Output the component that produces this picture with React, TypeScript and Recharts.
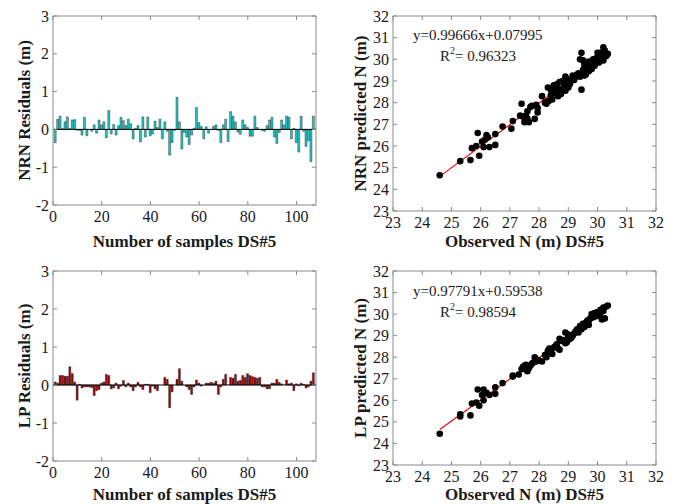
import React from 'react';
import {
  ComposedChart, ScatterChart, Bar, Scatter, XAxis, YAxis, ReferenceLine, ReferenceArea, Customized,
} from 'recharts';

const FONT = '"Liberation Serif", "Times New Roman", serif';
const AXC = '#8a8a8a';
const TXT = '#1a1a1a';

// ---------- data ----------
const residualTicksX = [0, 20, 40, 60, 80, 100];
const residualTicksY = [-2, -1, 0, 1, 2, 3];
const scatterTicks = [23, 24, 25, 26, 27, 28, 29, 30, 31, 32];

const nrnResiduals = [
  -0.35, 0.27, 0.35, 0.02, 0.2, 0.33, 0.02, 0.25, 0.26, -0.02,
  -0.03, -0.15, 0.32, -0.17, 0.0, -0.05, 0.12, -0.1, 0.25, 0.12,
  0.2, -0.22, 0.5, -0.12, 0.13, -0.15, 0.1, 0.32, 0.23, 0.1,
  0.27, 0.15, -0.25, 0.03, 0.1, -0.33, 0.33, -0.2, 0.33, -0.17,
  -0.12, 0.22, 0.05, 0.27, -0.25, 0.2, -0.05, -0.68, -0.35, -0.03,
  0.85, 0.2, -0.52, -0.08, -0.2, -0.4, -0.15, 0.03, 0.58, 0.18,
  0.08, -0.25, 0.07, -0.1, 0.0, 0.08, 0.12, -0.03, -0.35, 0.12,
  0.27, -0.32, 0.47, 0.35, 0.2, -0.07, -0.13, 0.25, 0.12, 0.05,
  -0.18, -0.18, 0.35, 0.05, 0.0, -0.03, -0.05, 0.1, 0.25, 0.32,
  -0.2, -0.37, -0.08, 0.25, 0.12, 0.35, 0.32, -0.25, 0.03, -0.35,
  -0.6, 0.35, -0.05, -0.45, -0.3, -0.85, 0.35,
];

const lpResiduals = [
  0.08, 0.05, 0.25, 0.25, 0.23, 0.23, 0.48, 0.3, 0.08, -0.4,
  0.02, -0.08, -0.05, -0.05, -0.05, -0.07, -0.28, -0.15, -0.12, 0.05,
  0.08, 0.28, 0.25, -0.1, -0.08, 0.05, -0.1, -0.03, 0.12, -0.05,
  0.05, -0.05, -0.15, -0.05, 0.07, -0.05, -0.12, 0.02, 0.02, -0.2,
  -0.03, -0.1, -0.15, 0.0, 0.0, 0.2, 0.15, -0.6, -0.18, 0.0,
  0.15, 0.43, 0.1, 0.0, -0.05, -0.12, -0.25, -0.05, 0.13, 0.05,
  -0.03, 0.0, 0.05, 0.05, 0.07, 0.05, 0.1, -0.25, -0.05, 0.15,
  0.28, 0.0, 0.2, 0.18, 0.28, 0.1, 0.12, 0.25, 0.2, 0.3,
  0.25, 0.22, 0.2, 0.18, 0.2, -0.05, -0.05, -0.1, -0.1, 0.05,
  0.05, 0.15, 0.07, 0.03, 0.0, 0.13, 0.03, 0.05, -0.15, 0.03,
  -0.02, 0.05, 0.02, -0.08, -0.05, 0.1, 0.32,
];

const nrnObsPred: [number, number][] = [
  [24.6, 24.65], [25.3, 25.3], [25.65, 25.35], [25.7, 25.9], [25.85, 26.0], [25.9, 26.6], [25.95, 25.55],
  [26.05, 26.2], [26.1, 25.95], [26.15, 26.3], [26.2, 26.5], [26.25, 26.4], [26.3, 25.95], [26.5, 26.55],
  [26.5, 26.05], [26.75, 26.9], [27.05, 26.8], [27.1, 27.15], [27.35, 27.4], [27.4, 27.95], [27.45, 27.35],
  [27.5, 27.1], [27.55, 27.4], [27.6, 27.25], [27.65, 27.1], [27.7, 27.8], [27.75, 27.85], [27.85, 27.25],
  [27.9, 27.9], [27.95, 27.55], [27.95, 27.75], [28.1, 28.3], [28.2, 28.0], [28.25, 27.95], [28.3, 28.7],
  [28.35, 28.1], [28.4, 28.6], [28.45, 28.15], [28.5, 28.8], [28.55, 28.55], [28.6, 28.85], [28.65, 28.3],
  [28.7, 28.95], [28.7, 28.5], [28.75, 28.4], [28.8, 28.6], [28.85, 28.75], [28.9, 29.2], [28.9, 28.55],
  [28.95, 29.1], [29.0, 28.7], [29.05, 28.85], [29.1, 29.0], [29.15, 29.25], [29.2, 29.05], [29.3, 29.3],
  [29.35, 29.35], [29.4, 29.2], [29.45, 30.3], [29.45, 28.6], [29.5, 29.95], [29.5, 29.4], [29.55, 29.6],
  [29.6, 29.3], [29.65, 29.7], [29.7, 29.45], [29.75, 29.85], [29.8, 29.55], [29.85, 29.95], [29.9, 29.7],
  [29.95, 30.05], [30.0, 30.3], [30.05, 29.85], [30.1, 30.0], [30.15, 30.2], [30.2, 30.55], [30.2, 29.95],
  [30.25, 30.4], [30.3, 30.15], [30.35, 30.25], [29.3, 29.25], [29.55, 29.25], [29.65, 29.5], [29.0, 28.95],
  [28.4, 28.35], [28.6, 28.4], [29.85, 30.0], [30.0, 29.95], [29.5, 29.5], [29.4, 30.0], [28.8, 29.0],
  [29.25, 29.2], [28.95, 28.9], [28.65, 28.65], [29.7, 29.9], [30.1, 30.3], [29.55, 29.75], [28.3, 28.05],
  [27.6, 27.6], [29.15, 29.1],
];

const lpObsPred: [number, number][] = [
  [24.6, 24.45], [25.3, 25.35], [25.3, 25.25], [25.65, 25.3], [25.7, 25.85], [25.85, 25.9], [25.9, 26.5],
  [25.95, 25.75], [26.05, 26.25], [26.1, 26.0], [26.1, 26.5], [26.2, 26.35], [26.3, 26.25], [26.5, 26.6],
  [26.5, 26.3], [26.75, 26.8], [27.1, 27.15], [27.1, 27.1], [27.3, 27.2], [27.4, 27.45], [27.45, 27.55],
  [27.5, 27.6], [27.55, 27.65], [27.6, 27.35], [27.65, 27.5], [27.7, 27.6], [27.8, 27.75], [27.85, 28.0],
  [27.9, 27.8], [28.0, 27.85], [28.1, 27.8], [28.2, 28.1], [28.25, 28.0], [28.3, 28.3], [28.35, 28.4],
  [28.4, 28.2], [28.45, 28.15], [28.5, 28.45], [28.6, 28.55], [28.65, 28.4], [28.7, 28.85], [28.7, 28.35],
  [28.8, 28.75], [28.9, 29.15], [28.9, 28.65], [28.95, 28.7], [29.0, 29.05], [29.05, 28.85], [29.1, 28.9],
  [29.2, 29.1], [29.3, 29.3], [29.35, 29.15], [29.4, 29.45], [29.45, 29.3], [29.5, 29.55], [29.55, 29.4],
  [29.6, 29.6], [29.65, 29.7], [29.7, 29.5], [29.75, 29.8], [29.8, 30.0], [29.85, 29.85], [29.9, 30.05],
  [29.95, 29.9], [30.0, 30.1], [30.05, 29.95], [30.1, 30.2], [30.15, 29.75], [30.2, 30.3], [30.25, 29.8],
  [30.3, 30.35], [30.35, 30.4], [28.6, 28.6], [28.75, 28.75], [29.15, 29.0], [29.45, 29.45], [29.7, 29.7],
  [30.1, 30.05], [27.9, 27.9], [28.3, 28.2], [29.0, 28.95], [29.25, 29.2], [29.55, 29.5], [29.85, 29.95],
  [30.0, 30.0], [28.85, 28.8], [28.4, 28.35], [27.75, 27.7], [29.4, 29.3], [29.95, 30.05], [30.2, 30.15],
  [28.55, 28.5], [29.65, 29.6], [27.5, 27.45],
];

const nrnFit = { slope: 0.99666, intercept: 0.07995, r2: '0.96323', x0: 24.6, x1: 30.35 };
const lpFit = { slope: 0.97791, intercept: 0.59538, r2: '0.98594', x0: 24.6, x1: 30.35 };

// ---------- helpers ----------
const TICK_FS = 16;
const TITLE_FS = 17;

function makeXTick(plotH: number, margin: number) {
  return (props: any) => {
    const { x, y, payload } = props;
    const axisY = y - margin;
    return (
      <g>
        <line x1={x} x2={x} y1={axisY} y2={axisY - 4} stroke={AXC} />
        <line x1={x} x2={x} y1={axisY - plotH} y2={axisY - plotH + 4} stroke={AXC} />
        <text x={x} y={y} textAnchor="middle" dominantBaseline="central" fontFamily={FONT} fontSize={TICK_FS} fill={TXT}>
          {payload.value}
        </text>
      </g>
    );
  };
}

function makeYTick(plotW: number, margin: number) {
  return (props: any) => {
    const { x, y, payload } = props;
    const axisX = x + margin;
    return (
      <g>
        <line x1={axisX} x2={axisX + 4} y1={y} y2={y} stroke={AXC} />
        <line x1={axisX + plotW} x2={axisX + plotW - 4} y1={y} y2={y} stroke={AXC} />
        <text x={x} y={y} textAnchor="end" dominantBaseline="central" fontFamily={FONT} fontSize={TICK_FS} fill={TXT}>
          {payload.value}
        </text>
      </g>
    );
  };
}

function Titles({ xTitle, yTitle, xCenter, xTitleY, yCenter, yTitleX }: any) {
  return (
    <g>
      <text x={xCenter} y={xTitleY} textAnchor="middle" dominantBaseline="central" fontFamily={FONT}
        fontSize={TITLE_FS} fontWeight="bold" fill={TXT}>{xTitle}</text>
      <text x={yTitleX} y={yCenter} textAnchor="middle" dominantBaseline="central" fontFamily={FONT}
        fontSize={TITLE_FS} fontWeight="bold" fill={TXT} transform={`rotate(-90 ${yTitleX} ${yCenter})`}>{yTitle}</text>
    </g>
  );
}

const PLOT_W = 263;
const Y_AXIS_W = 53;
const CHART_W = 337;

function ResidualPanel({ values, fill, yTitle, top, height, plotTop, plotBottom, xTitleY }: any) {
  const data = values.map((v: number, i: number) => ({ idx: i + 1, v }));
  const plotH = plotBottom - plotTop;
  const xMargin = 11;
  return (
    <div style={{ position: 'absolute', left: 0, top }}>
      <ComposedChart width={CHART_W} height={height} data={data}
        margin={{ top: plotTop, right: CHART_W - Y_AXIS_W - PLOT_W, left: 0, bottom: 0 }}>
        <XAxis dataKey="idx" type="number" domain={[0, 108]} ticks={residualTicksX} interval={0}
          height={height - plotBottom} axisLine={false} tickLine={false} tickSize={0} tickMargin={xMargin}
          tick={makeXTick(plotH, xMargin)} />
        <YAxis type="number" domain={[-2, 3]} ticks={residualTicksY} interval={0} width={Y_AXIS_W}
          axisLine={false} tickLine={false} tickSize={0} tickMargin={4} tick={makeYTick(PLOT_W, 4)} />
        <Bar dataKey="v" fill={fill} stroke="#111" strokeWidth={0.4} barSize={2} isAnimationActive={false} />
        <ReferenceLine y={0} stroke="#000" strokeWidth={1} />
        <ReferenceArea x1={0} x2={108} y1={-2} y2={3} fill="none" stroke={AXC} strokeWidth={1} />
        <Customized component={() => (
          <Titles xTitle="Number of samples DS#5" yTitle={yTitle}
            xCenter={Y_AXIS_W + PLOT_W / 2} xTitleY={xTitleY}
            yCenter={(plotTop + plotBottom) / 2} yTitleX={24} />
        )} />
      </ComposedChart>
    </div>
  );
}

function ScatterPanel({ points, fit, yTitle, top, height, plotTop, plotBottom, xTitleY, eqY, r2Y }: any) {
  const data = points.map((p: [number, number]) => ({ x: p[0], y: p[1] }));
  const plotH = plotBottom - plotTop;
  const xMargin = 11;
  const seg = [
    { x: fit.x0, y: fit.slope * fit.x0 + fit.intercept },
    { x: fit.x1, y: fit.slope * fit.x1 + fit.intercept },
  ];
  return (
    <div style={{ position: 'absolute', left: 340, top }}>
      <ScatterChart width={CHART_W} height={height}
        margin={{ top: plotTop, right: CHART_W - Y_AXIS_W - PLOT_W, left: 0, bottom: 0 }}>
        <XAxis dataKey="x" type="number" domain={[23, 32]} ticks={scatterTicks} interval={0}
          height={height - plotBottom} axisLine={false} tickLine={false} tickSize={0} tickMargin={xMargin}
          tick={makeXTick(plotH, xMargin)} />
        <YAxis dataKey="y" type="number" domain={[23, 32]} ticks={scatterTicks} interval={0} width={Y_AXIS_W}
          axisLine={false} tickLine={false} tickSize={0} tickMargin={4} tick={makeYTick(PLOT_W, 4)} />
        <Scatter data={data} fill="#000" isAnimationActive={false}
          shape={(p: any) => <circle cx={p.cx} cy={p.cy} r={3.3} fill="#000" />} />
        <ReferenceLine segment={seg} stroke="#ff0000" strokeWidth={1.2} />
        <ReferenceArea x1={23} x2={32} y1={23} y2={32} fill="none" stroke={AXC} strokeWidth={1} />
        <Customized component={() => (
          <g>
            <Titles xTitle="Observed N (m) DS#5" yTitle={yTitle}
              xCenter={Y_AXIS_W + PLOT_W / 2} xTitleY={xTitleY}
              yCenter={(plotTop + plotBottom) / 2} yTitleX={20} />
            <text x={73} y={eqY} dominantBaseline="central" fontFamily={FONT} fontSize={15} fill={TXT}>
              {`y=${fit.slope}x+${fit.intercept}`}
            </text>
            <text x={100} y={r2Y} dominantBaseline="central" fontFamily={FONT} fontSize={15} fill={TXT}>
              R<tspan fontSize={10} dy={-6}>2</tspan><tspan dy={6}>{`= ${fit.r2}`}</tspan>
            </text>
          </g>
        )} />
      </ScatterChart>
    </div>
  );
}

export default function App() {
  return (
    <div style={{ position: 'absolute', left: 0, top: 0, width: 675, height: 504, background: '#fff', overflow: 'hidden' }}>
      <ResidualPanel values={nrnResiduals} fill="#22cccc" yTitle="NRN Residuals (m)"
        top={0} height={250} plotTop={16} plotBottom={205} xTitleY={241} />
      <ScatterPanel points={nrnObsPred} fit={nrnFit} yTitle="NRN predicted N (m)"
        top={0} height={250} plotTop={16} plotBottom={211} xTitleY={241} eqY={35} r2Y={56} />
      <ResidualPanel values={lpResiduals} fill="#9a0c0c" yTitle="LP Residuals (m)"
        top={250} height={254} plotTop={21} plotBottom={211} xTitleY={244} />
      <ScatterPanel points={lpObsPred} fit={lpFit} yTitle="LP predicted N (m)"
        top={250} height={254} plotTop={21} plotBottom={215} xTitleY={244} eqY={41} r2Y={62} />
    </div>
  );
}
